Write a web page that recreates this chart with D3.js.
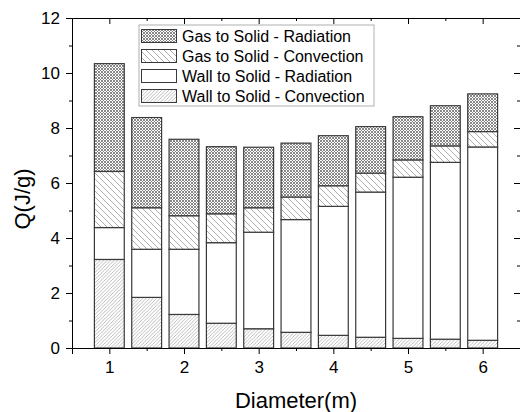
<!DOCTYPE html>
<html><head><meta charset="utf-8">
<script src="https://cdn.jsdelivr.net/npm/d3@7"></script>
<style>body{margin:0;background:#fff}svg{display:block;font-family:"Liberation Sans",Arial,sans-serif}</style>
</head><body><svg id="c" width="520" height="412"></svg>
<script>
const diameters = [1,1.5,2,2.5,3,3.5,4,4.5,5,5.5,6];
const wallConv = [3.22,1.84,1.22,0.90,0.70,0.57,0.46,0.39,0.35,0.32,0.28];
const wallRad  = [1.16,1.75,2.37,2.93,3.51,4.10,4.69,5.28,5.86,6.43,7.03];
const gasConv  = [2.04,1.51,1.22,1.05,0.89,0.82,0.75,0.69,0.63,0.60,0.56];
const gasRad   = [3.92,3.28,2.78,2.44,2.20,1.96,1.82,1.69,1.57,1.46,1.37];
const seriesNames = ["Wall to Solid - Convection","Wall to Solid - Radiation","Gas to Solid - Convection","Gas to Solid - Radiation"];
const xTicks = [1,2,3,4,5,6];
const yTicks = [0,2,4,6,8,10,12];

const svg = d3.select("#c");
const L=72,R=520,T=18,B=348;
const x = d3.scaleLinear().domain([0.5,6.5]).range([L,R]);
const y = d3.scaleLinear().domain([0,12]).range([B,T]);

const defs = svg.append("defs");
let p = defs.append("pattern").attr("id","pGR").attr("patternUnits","userSpaceOnUse").attr("width",3).attr("height",3);
p.append("rect").attr("width",3).attr("height",3).attr("fill","#fff");
p.append("path").attr("d","M0,0L3,3M3,0L0,3").attr("stroke","#7a7a7a").attr("stroke-width",0.9);
p = defs.append("pattern").attr("id","pGC").attr("patternUnits","userSpaceOnUse").attr("width",6).attr("height",6);
p.append("rect").attr("width",6).attr("height",6).attr("fill","#fff");
p.append("path").attr("d","M0,0L6,6M-3,3L3,9M3,-3L9,3").attr("stroke","#999").attr("stroke-width",0.8);
p = defs.append("pattern").attr("id","pWC").attr("patternUnits","userSpaceOnUse").attr("width",3.5).attr("height",3.5);
p.append("rect").attr("width",3.5).attr("height",3.5).attr("fill","#fff");
p.append("path").attr("d","M0,3.5L3.5,0M-1.75,1.75L1.75,-1.75M1.75,5.25L5.25,1.75").attr("stroke","#a0a0a0").attr("stroke-width",0.7);
const fills = ["url(#pWC)","#fff","url(#pGC)","url(#pGR)"];

const rows = diameters.map((d,i)=>({d, s0:wallConv[i], s1:wallRad[i], s2:gasConv[i], s3:gasRad[i]}));
const stack = d3.stack().keys(["s0","s1","s2","s3"])(rows);
const bw = x(1.4)-x(1);
stack.forEach((layer,k)=>{
  svg.append("g").selectAll("rect").data(layer).join("rect")
    .attr("x",d=>x(d.data.d)-bw/2).attr("width",bw)
    .attr("y",d=>y(d[1])).attr("height",d=>y(d[0])-y(d[1]))
    .attr("fill",fills[k]).attr("stroke","#3a3a3a").attr("stroke-width",1.2);
});

const minorX = d3.range(1.5,6.5,1);
const minorY = [1,3,5,7,9,11];
function styleAxis(g){g.selectAll("path").attr("stroke","#000");g.selectAll("line").attr("stroke","#000");}
svg.append("g").attr("transform",`translate(0,${B})`).call(d3.axisBottom(x).tickValues(xTicks).tickFormat(d3.format("d")).tickSize(6).tickPadding(7))
  .call(styleAxis).call(g=>g.selectAll("text").attr("font-size",17).attr("fill","#000"));
svg.append("g").attr("transform",`translate(0,${B})`).call(d3.axisBottom(x).tickValues(minorX).tickFormat("").tickSize(3)).call(styleAxis).call(g=>g.select("path").remove());
svg.append("g").attr("transform",`translate(0,${T})`).call(d3.axisTop(x).tickValues(xTicks).tickFormat("").tickSize(-6)).call(styleAxis);
svg.append("g").attr("transform",`translate(0,${T})`).call(d3.axisTop(x).tickValues(minorX).tickFormat("").tickSize(-3)).call(styleAxis).call(g=>g.select("path").remove());
svg.append("g").attr("transform",`translate(${L},0)`).call(d3.axisLeft(y).tickValues(yTicks).tickFormat(d3.format("d")).tickSize(6).tickPadding(6))
  .call(styleAxis).call(g=>g.selectAll("text").attr("font-size",17).attr("fill","#000"));
svg.append("g").attr("transform",`translate(${L},0)`).call(d3.axisLeft(y).tickValues(minorY).tickFormat("").tickSize(3)).call(styleAxis).call(g=>g.select("path").remove());
svg.append("g").attr("transform",`translate(${R},0)`).call(d3.axisRight(y).tickValues(yTicks).tickFormat("").tickSize(-6)).call(styleAxis);
svg.append("g").attr("transform",`translate(${R},0)`).call(d3.axisRight(y).tickValues(minorY).tickFormat("").tickSize(-3)).call(styleAxis).call(g=>g.select("path").remove());

svg.append("text").attr("x",(L+R)/2).attr("y",408).attr("text-anchor","middle").attr("font-size",22).text("Diameter(m)");
svg.append("text").attr("transform","translate(30,199) rotate(-90)").attr("text-anchor","middle").attr("font-size",22).text("Q(J/g)");

const lg = svg.append("g");
lg.append("rect").attr("x",139).attr("y",25).attr("width",235).attr("height",81).attr("fill","#fff").attr("stroke","#b0b0b0").attr("stroke-width",1);
const order = [3,2,1,0];
order.forEach((k,i)=>{
  const cy = 36 + i*20;
  lg.append("rect").attr("x",141.5).attr("y",cy-6.5).attr("width",35).attr("height",13).attr("fill",fills[k]).attr("stroke","#3a3a3a").attr("stroke-width",1);
  lg.append("text").attr("x",182).attr("y",cy+6).attr("font-size",16).text(seriesNames[k]);
});
</script></body></html>
